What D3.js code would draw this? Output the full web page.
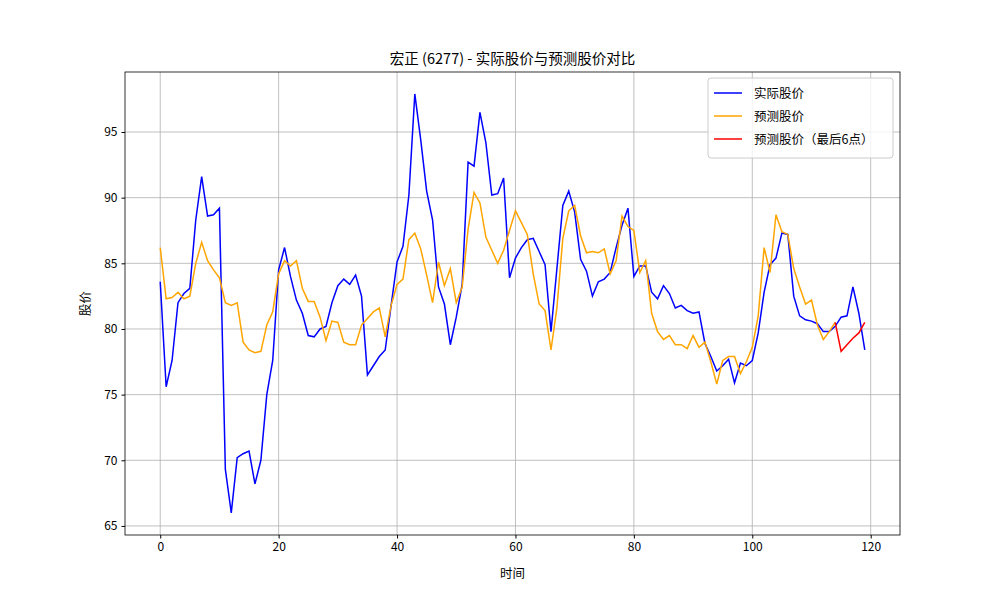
<!DOCTYPE html>
<html><head><meta charset="utf-8">
<script src="https://cdn.jsdelivr.net/npm/d3@7"></script>
<style>body{margin:0;background:#fff}text{font-family:"Noto Sans CJK SC","DejaVu Sans",sans-serif}</style>
</head><body><svg id="c" width="1000" height="600"></svg>
<script>
const actual=[83.6,75.6,77.6,82,82.7,83.1,88.3,91.6,88.6,88.7,89.2,69.3,66.0,70.2,70.5,70.7,68.2,70.0,75.0,77.6,84.5,86.2,84.0,82.2,81.2,79.5,79.4,80.0,80.2,82.0,83.3,83.8,83.4,84.1,82.5,76.5,77.2,77.9,78.4,81.8,85.1,86.3,90.2,97.9,94.4,90.5,88.3,83.2,81.9,78.8,80.9,83.4,92.7,92.4,96.5,94.2,90.2,90.3,91.5,83.9,85.4,86.2,86.8,86.9,85.9,84.9,79.8,84.6,89.4,90.5,88.9,85.3,84.4,82.5,83.6,83.8,84.3,86.2,87.9,89.2,84.0,84.8,84.8,82.8,82.3,83.3,82.7,81.6,81.8,81.4,81.2,81.3,78.9,77.9,76.8,77.2,77.7,75.9,77.4,77.2,77.6,79.7,82.8,84.9,85.4,87.3,87.2,82.5,81.0,80.7,80.6,80.4,79.8,79.8,80.2,80.9,81.0,83.2,81.2,78.4];
const predicted=[86.2,82.3,82.4,82.8,82.3,82.5,85.0,86.6,85.2,84.5,83.9,82.0,81.8,82.0,79.0,78.4,78.2,78.3,80.3,81.3,84.2,85.2,84.8,85.2,83.1,82.1,82.1,80.9,79.1,80.6,80.5,79.0,78.8,78.8,80.3,80.8,81.3,81.6,79.4,81.8,83.4,83.8,86.8,87.3,86.1,84.1,82.0,85.1,83.3,84.6,82.0,83.2,87.6,90.4,89.6,87.0,86.0,85.0,86.0,87.5,89.0,88.1,87.2,84.2,81.9,81.4,78.4,81.6,86.9,89.0,89.4,87.1,85.8,85.9,85.8,86.1,84.2,85.2,88.6,87.8,87.5,84.3,85.2,81.2,79.8,79.2,79.5,78.8,78.8,78.5,79.5,78.6,79.0,77.5,75.8,77.6,77.9,77.9,76.6,77.5,78.6,81.0,86.2,84.3,88.7,87.4,87.2,84.6,83.2,81.9,82.2,80.3,79.2,79.8,80.5];
const lastStart=114;
const last6=[80.5,78.3,78.8,79.3,79.7,80.5];
const xTicks=[0,20,40,60,80,100,120];
const yTicks=[65,70,75,80,85,90,95];
const L=125,R=900,T=72,B=535;
const svg=d3.select("#c");
const x=d3.scaleLinear().domain([-5.95,124.95]).range([L,R]);
const y=d3.scaleLinear().domain([64.31,99.57]).range([B,T]);
const g=svg.append("g");
g.selectAll(".gx").data(xTicks).enter().append("line").attr("x1",d=>x(d)).attr("x2",d=>x(d)).attr("y1",T).attr("y2",B).attr("stroke","#b0b0b0").attr("stroke-width",0.8);
g.selectAll(".gy").data(yTicks).enter().append("line").attr("y1",d=>y(d)).attr("y2",d=>y(d)).attr("x1",L).attr("x2",R).attr("stroke","#b0b0b0").attr("stroke-width",0.8);
const line=d3.line().x(d=>x(d[0])).y(d=>y(d[1]));
g.append("path").attr("d",line(actual.map((v,i)=>[i,v]))).attr("fill","none").attr("stroke","blue").attr("stroke-width",1.5);
g.append("path").attr("d",line(predicted.map((v,i)=>[i,v]))).attr("fill","none").attr("stroke","orange").attr("stroke-width",1.5);
g.append("path").attr("d",line(last6.map((v,i)=>[lastStart+i,v]))).attr("fill","none").attr("stroke","red").attr("stroke-width",1.5);
svg.append("rect").attr("x",L).attr("y",T).attr("width",R-L).attr("height",B-T).attr("fill","none").attr("stroke","#000").attr("stroke-width",0.8);
const xa=svg.append("g").attr("transform",`translate(0,${B})`).call(d3.axisBottom(x).tickValues(xTicks).tickSize(3.5).tickPadding(4));
const ya=svg.append("g").attr("transform",`translate(${L},0)`).call(d3.axisLeft(y).tickValues(yTicks).tickSize(3.5).tickPadding(4));
[xa,ya].forEach(a=>{a.select(".domain").remove();a.selectAll("text").attr("font-size",12).attr("fill","#000").style("font-family",'"Noto Sans CJK SC",sans-serif');});
svg.append("text").attr("x",(L+R)/2).attr("y",64).attr("text-anchor","middle").attr("font-size",14.5).text("宏正 (6277) - 实际股价与预测股价对比");
svg.append("text").attr("x",(L+R)/2).attr("y",578).attr("text-anchor","middle").attr("font-size",12.5).text("时间");
svg.append("text").attr("transform",`translate(90,${(T+B)/2}) rotate(-90)`).attr("text-anchor","middle").attr("font-size",12.5).text("股价");
const lg=svg.append("g").attr("transform","translate(708,78)");
lg.append("rect").attr("width",185).attr("height",80).attr("rx",3).attr("fill","#fff").attr("fill-opacity",0.8).attr("stroke","#ccc");
[["实际股价","blue"],["预测股价","orange"],["预测股价（最后6点）","red"]].forEach((d,i)=>{
 lg.append("line").attr("x1",6).attr("x2",34).attr("y1",15+i*23).attr("y2",15+i*23).attr("stroke",d[1]).attr("stroke-width",1.5);
 lg.append("text").attr("x",46).attr("y",20+i*23).attr("font-size",12.5).text(d[0]);
});
</script></body></html>
